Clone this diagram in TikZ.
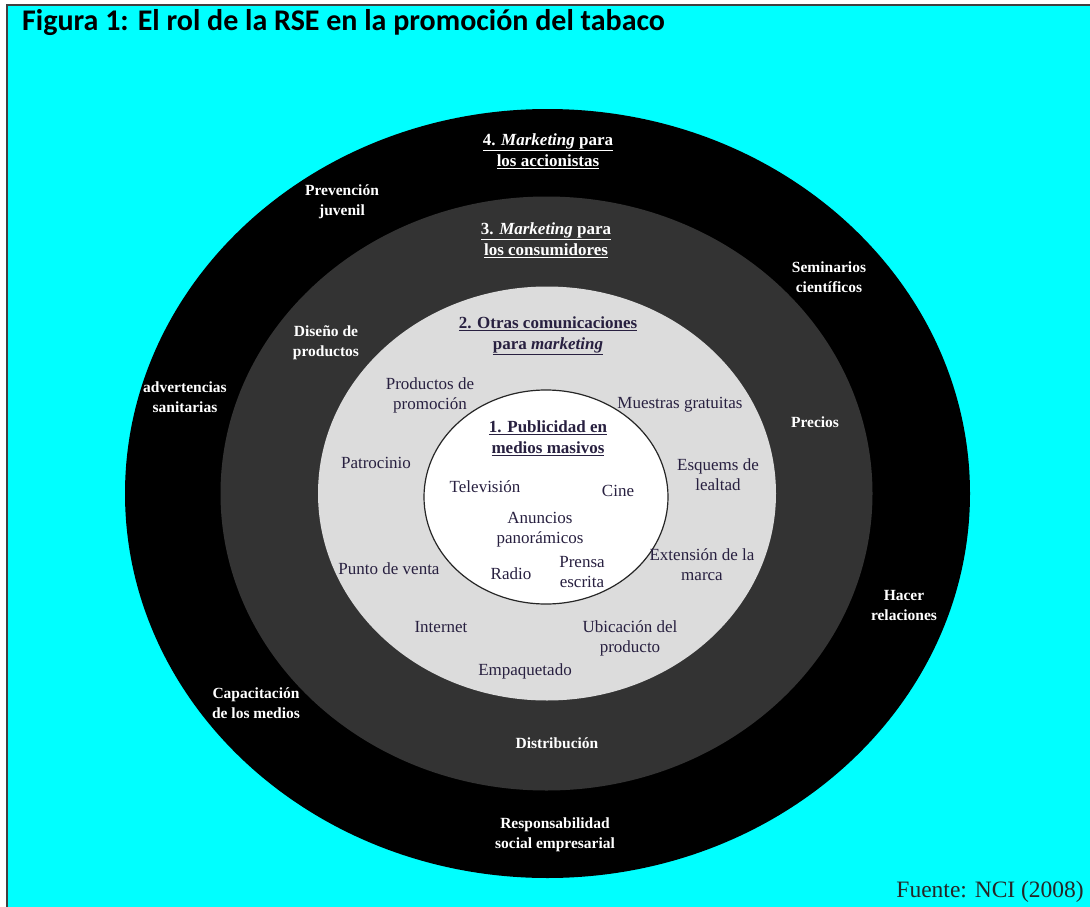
\documentclass[tikz,border=0pt]{standalone}
\usepackage{fontspec}
\setmainfont{Liberation Serif}
\newfontfamily\titlefont{Carlito}
\definecolor{cyanbg}{RGB}{0,255,255}
\definecolor{ringdark}{RGB}{51,51,51}
\definecolor{ringlight}{RGB}{220,220,220}
\definecolor{txtdark}{RGB}{40,32,64}
\tikzset{
  lbl/.style={inner sep=0pt, align=center, font=\fontsize{17}{20}\selectfont},
  lbllight/.style={lbl, text=txtdark},
  lbldark/.style={lbl, text=white, font=\fontsize{15.5}{20}\selectfont\bfseries},
  headlight/.style={lbl, text=txtdark, font=\fontsize{17}{21}\selectfont\bfseries},
  headdark/.style={lbl, text=white, font=\fontsize{17}{21}\selectfont\bfseries},
}
\begin{document}
\begin{tikzpicture}[x=1pt,y=-1pt]
\useasboundingbox (0,0) rectangle (1090,907);
\fill[white] (0,0) rectangle (1090,907);
\fill[cyanbg] (7,5) rectangle (1090,907);
\draw[line width=2pt, black!75] (7,907) -- (7,5) -- (1090,5);
% rings
\fill[black] (547.5,493.5) ellipse [x radius=422.5, y radius=384.5];
\fill[ringdark] (546.5,493.5) ellipse [x radius=326, y radius=297];
\fill[ringlight] (547,493.5) ellipse [x radius=229, y radius=207];
\filldraw[fill=white, draw=black!85, line width=1.2pt] (546,497) ellipse [x radius=122, y radius=107];
% title
\node[anchor=base west, inner sep=0pt, font=\titlefont\fontsize{30}{34}\selectfont\bfseries, text=black] (title) at (22,31) {Figura 1: El rol de la RSE en la promoción del tabaco};
% headings
\node[headdark] (h4) at (548,151) {\underline{4. \textit{Marketing} para}\\\underline{los accionistas}};
\node[headdark] (h3) at (546,240) {\underline{3. \textit{Marketing} para}\\\underline{los consumidores}};
\node[headlight] (h2) at (548,336) {\underline{2. Otras comunicaciones}\\\underline{para \textit{marketing}}};
\node[headlight] (h1) at (548,438) {\underline{1. Publicidad en}\\\underline{medios masivos}};
% outer ring labels
\node[lbldark] (prev) at (342,202) {Prevención\\juvenil};
\node[lbldark] (semi) at (829,277) {Seminarios\\científicos};
\node[lbldark] (adv) at (185,397) {advertencias\\sanitarias};
\node[lbldark] (hacer) at (904,605) {Hacer\\relaciones};
\node[lbldark] (capa) at (256,703) {Capacitación\\de los medios};
\node[lbldark] (resp) at (555,835) {Responsabilidad\\social empresarial};
% dark gray ring labels
\node[lbldark] (dise) at (326,343) {Diseño de\\productos};
\node[lbldark] (prec) at (815,422) {Precios};
\node[lbldark] (dist) at (557,743) {Distribución};
% light ring labels
\node[lbllight] (prod) at (430,395) {Productos de\\promoción};
\node[lbllight] (mues) at (680,405) {Muestras gratuitas};
\node[lbllight] (patr) at (376,463) {Patrocinio};
\node[lbllight] (esq) at (718,475) {Esquems de\\lealtad};
\node[lbllight] (ext) at (702,565) {Extensión de la\\marca};
\node[lbllight] (punto) at (389,569) {Punto de venta};
\node[lbllight] (inter) at (441,627) {Internet};
\node[lbllight] (ubic) at (630,638) {Ubicación del\\producto};
\node[lbllight] (emp) at (525,671) {Empaquetado};
% inner labels
\node[lbllight] (tele) at (485,487) {Televisión};
\node[lbllight] (cine) at (618,491) {Cine};
\node[lbllight] (anun) at (540,530) {Anuncios\\panorámicos};
\node[lbllight] (radio) at (511,574) {Radio};
\node[lbllight] (prensa) at (582,572) {Prensa\\escrita};
% source
\node[anchor=east, inner sep=0pt, font=\fontsize{23.5}{26}\selectfont, text=black!85] (src) at (1084,892) {Fuente: NCI (2008)};
\end{tikzpicture}
\end{document}
